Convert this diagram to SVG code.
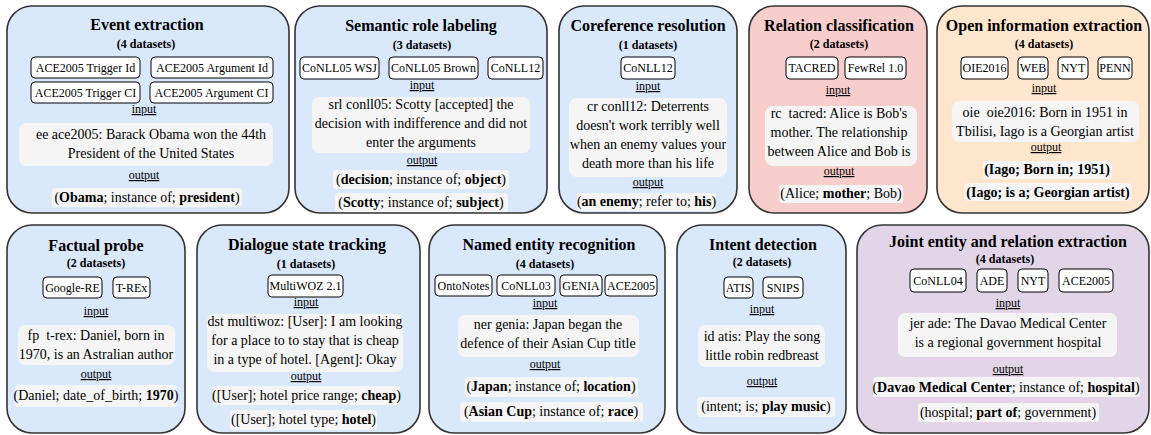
<svg xmlns="http://www.w3.org/2000/svg" width="1151" height="435" viewBox="0 0 1151 435" font-family="'Liberation Serif', Tinos, 'Times New Roman', 'DejaVu Serif', serif">
<style>
text{font-family:'Liberation Serif',Tinos,'Times New Roman','DejaVu Serif',serif;fill:#000;text-anchor:middle}
.panel{stroke:#333;stroke-width:1.6}
.blue{fill:#dae8fc}.red{fill:#f8cecc}.orange{fill:#ffe6cc}.purple{fill:#e1d5e7}
.chip{fill:#fff;stroke:#000;stroke-width:1}
.box{fill:#f5f5f5}
.t{font-size:16px;font-weight:bold}
.s{font-size:12px;font-weight:bold}
.c{font-size:12px}
.l{font-size:12px;text-decoration:underline}
.x{font-size:14px}
.b{font-weight:bold}
</style>
<rect width="1151" height="435" fill="#fff"/>

<g id="event-extraction">
<rect class="panel blue" x="7" y="6" width="282" height="207" rx="25"/>
<text class="t" x="147" y="30">Event extraction</text>
<text class="s" x="146" y="48">(4 datasets)</text>
<rect class="chip" x="31" y="57" width="109" height="21" rx="4"/>
<text class="c" x="85.5" y="72">ACE2005 Trigger Id</text>
<rect class="chip" x="151" y="57" width="122" height="21" rx="4"/>
<text class="c" x="212" y="72">ACE2005 Argument Id</text>
<rect class="chip" x="31" y="82" width="109" height="21" rx="4"/>
<text class="c" x="85.5" y="97">ACE2005 Trigger CI</text>
<rect class="chip" x="150" y="82" width="123" height="21" rx="4"/>
<text class="c" x="211.5" y="97">ACE2005 Argument CI</text>
<text class="l" x="144" y="113">input</text>
<rect class="box" x="19" y="123" width="254" height="43" rx="7"/>
<text class="x" x="151" y="139">ee ace2005: Barack Obama won the 44th</text>
<text class="x" x="151" y="158">President of the United States</text>
<text class="l" x="144" y="179">output</text>
<rect class="box" x="52" y="188" width="190" height="19" rx="3"/>
<text class="x" x="147" y="202">(<tspan class="b">Obama</tspan>; instance of; <tspan class="b">president</tspan>)</text>
</g>

<g id="semantic-role-labeling">
<rect class="panel blue" x="295" y="6" width="252" height="207" rx="25"/>
<text class="t" x="421" y="31">Semantic role labeling</text>
<text class="s" x="422" y="49">(3 datasets)</text>
<rect class="chip" x="300" y="57" width="79" height="22" rx="4"/>
<text class="c" x="339.5" y="72">CoNLL05 WSJ</text>
<rect class="chip" x="389" y="57" width="89" height="22" rx="4"/>
<text class="c" x="433.5" y="72">CoNLL05 Brown</text>
<rect class="chip" x="488" y="57" width="55" height="22" rx="4"/>
<text class="c" x="515.5" y="72">CoNLL12</text>
<text class="l" x="422" y="89">input</text>
<rect class="box" x="312" y="97" width="218" height="56" rx="7"/>
<text class="x" x="421" y="109">srl conll05: Scotty [accepted] the</text>
<text class="x" x="421" y="128">decision with indifference and did not</text>
<text class="x" x="421" y="147">enter the arguments</text>
<text class="l" x="422" y="164">output</text>
<rect class="box" x="333" y="170" width="176" height="19" rx="3"/>
<text class="x" x="421" y="184">(<tspan class="b">decision</tspan>; instance of; <tspan class="b">object</tspan>)</text>
<rect class="box" x="335" y="193" width="173" height="19" rx="3"/>
<text class="x" x="421" y="207">(<tspan class="b">Scotty</tspan>; instance of; <tspan class="b">subject</tspan>)</text>
</g>

<g id="coreference-resolution">
<rect class="panel blue" x="559" y="6" width="178" height="207" rx="25"/>
<text class="t" x="648" y="31">Coreference resolution</text>
<text class="s" x="648" y="49">(1 datasets)</text>
<rect class="chip" x="621" y="57" width="54" height="22" rx="4"/>
<text class="c" x="648" y="72">CoNLL12</text>
<text class="l" x="648" y="90">input</text>
<rect class="box" x="569" y="98" width="158" height="79" rx="8"/>
<text class="x" x="648" y="111">cr conll12: Deterrents</text>
<text class="x" x="648" y="130">doesn't work terribly well</text>
<text class="x" x="648" y="149">when an enemy values your</text>
<text class="x" x="648" y="168">death more than his life</text>
<text class="l" x="648" y="186">output</text>
<rect class="box" x="577" y="193" width="139" height="18" rx="3"/>
<text class="x" x="646.5" y="206">(<tspan class="b">an enemy</tspan>; refer to; <tspan class="b">his</tspan>)</text>
</g>

<g id="relation-classification">
<rect class="panel red" x="749" y="6" width="178" height="207" rx="25"/>
<text class="t" x="839" y="31">Relation classification</text>
<text class="s" x="839" y="48">(2 datasets)</text>
<rect class="chip" x="786" y="57" width="52" height="22" rx="4"/>
<text class="c" x="812" y="72">TACRED</text>
<rect class="chip" x="845" y="57" width="61" height="22" rx="4"/>
<text class="c" x="875.5" y="72">FewRel 1.0</text>
<text class="l" x="838" y="94">input</text>
<rect class="box" x="765" y="106" width="152" height="60" rx="8"/>
<text class="x" x="839" y="118" xml:space="preserve">rc  tacred: Alice is Bob's</text>
<text class="x" x="839" y="137">mother. The relationship</text>
<text class="x" x="839" y="156">between Alice and Bob is</text>
<text class="l" x="839" y="175">output</text>
<rect class="box" x="779" y="185" width="124" height="18" rx="3"/>
<text class="x" x="841" y="198">(Alice; <tspan class="b">mother</tspan>; Bob)</text>
</g>

<g id="open-information-extraction">
<rect class="panel orange" x="937" y="6" width="212" height="207" rx="25"/>
<text class="t" x="1044" y="31">Open information extraction</text>
<text class="s" x="1044" y="48">(4 datasets)</text>
<rect class="chip" x="961" y="57" width="47" height="22" rx="4"/>
<text class="c" x="984.5" y="72">OIE2016</text>
<rect class="chip" x="1018" y="57" width="30" height="22" rx="4"/>
<text class="c" x="1033" y="72">WEB</text>
<rect class="chip" x="1058" y="57" width="30" height="22" rx="4"/>
<text class="c" x="1073" y="72">NYT</text>
<rect class="chip" x="1098" y="57" width="34" height="22" rx="4"/>
<text class="c" x="1115" y="72">PENN</text>
<text class="l" x="1044" y="92">input</text>
<rect class="box" x="952" y="101" width="187" height="41" rx="7"/>
<text class="x" x="1045" y="117" xml:space="preserve">oie  oie2016: Born in 1951 in</text>
<text class="x" x="1045" y="136">Tbilisi, Iago is a Georgian artist</text>
<text class="l" x="1046" y="151">output</text>
<rect class="box" x="983" y="161" width="129" height="18" rx="3"/>
<text class="x b" x="1047" y="174">(Iago; Born in; 1951)</text>
<rect class="box" x="965" y="183" width="166" height="18" rx="3"/>
<text class="x b" x="1048" y="197">(Iago; is a; Georgian artist)</text>
</g>

<g id="factual-probe">
<rect class="panel blue" x="7" y="225" width="178" height="208" rx="25"/>
<text class="t" x="96" y="251">Factual probe</text>
<text class="s" x="96" y="267">(2 datasets)</text>
<rect class="chip" x="43" y="277" width="59" height="21" rx="4"/>
<text class="c" x="72.5" y="292">Google-RE</text>
<rect class="chip" x="113" y="277" width="37" height="21" rx="4"/>
<text class="c" x="131.5" y="292">T-REx</text>
<text class="l" x="96" y="315">input</text>
<rect class="box" x="18" y="325" width="157" height="40" rx="7"/>
<text class="x" x="96" y="340" xml:space="preserve">fp  t-rex: Daniel, born in</text>
<text class="x" x="96" y="359">1970, is an Astralian author</text>
<text class="l" x="96" y="378">output</text>
<rect class="box" x="15" y="385" width="162" height="22" rx="3"/>
<text class="x" x="96" y="400">(Daniel; date_of_birth; <tspan class="b">1970</tspan>)</text>
</g>

<g id="dialogue-state-tracking">
<rect class="panel blue" x="197" y="225" width="223" height="208" rx="25"/>
<text class="t" x="307" y="250">Dialogue state tracking</text>
<text class="s" x="306" y="268">(1 datasets)</text>
<rect class="chip" x="268" y="275" width="75" height="22" rx="4"/>
<text class="c" x="305.5" y="290">MultiWOZ 2.1</text>
<text class="l" x="306" y="306">input</text>
<rect class="box" x="207" y="314" width="196" height="58" rx="7"/>
<text class="x" x="305" y="326">dst multiwoz: [User]: I am looking</text>
<text class="x" x="305" y="345">for a place to to stay that is cheap</text>
<text class="x" x="305" y="364">in a type of hotel. [Agent]: Okay</text>
<text class="l" x="306" y="380">output</text>
<rect class="box" x="213" y="386" width="187" height="19" rx="3"/>
<text class="x" x="306.5" y="400">([User]; hotel price range; <tspan class="b">cheap</tspan>)</text>
<rect class="box" x="230" y="410" width="147" height="20" rx="3"/>
<text class="x" x="303.5" y="424">([User]; hotel type; <tspan class="b">hotel</tspan>)</text>
</g>

<g id="named-entity-recognition">
<rect class="panel blue" x="429" y="225" width="236" height="208" rx="25"/>
<text class="t" x="549" y="250">Named entity recognition</text>
<text class="s" x="545" y="268">(4 datasets)</text>
<rect class="chip" x="435" y="275" width="57" height="21" rx="4"/>
<text class="c" x="463.5" y="290">OntoNotes</text>
<rect class="chip" x="497" y="275" width="58" height="21" rx="4"/>
<text class="c" x="526" y="290">CoNLL03</text>
<rect class="chip" x="560" y="275" width="42" height="21" rx="4"/>
<text class="c" x="581" y="290">GENIA</text>
<rect class="chip" x="605" y="275" width="52" height="21" rx="4"/>
<text class="c" x="631" y="290">ACE2005</text>
<text class="l" x="545" y="307">input</text>
<rect class="box" x="458" y="315" width="181" height="42" rx="7"/>
<text class="x" x="548" y="329">ner genia: Japan began the</text>
<text class="x" x="548" y="348">defence of their Asian Cup title</text>
<text class="l" x="545" y="368">output</text>
<rect class="box" x="465" y="377" width="173" height="20" rx="3"/>
<text class="x" x="551" y="391">(<tspan class="b">Japan</tspan>; instance of; <tspan class="b">location</tspan>)</text>
<rect class="box" x="460" y="402" width="183" height="20" rx="3"/>
<text class="x" x="551" y="416">(<tspan class="b">Asian Cup</tspan>; instance of; <tspan class="b">race</tspan>)</text>
</g>

<g id="intent-detection">
<rect class="panel blue" x="677" y="225" width="169" height="208" rx="25"/>
<text class="t" x="763" y="250">Intent detection</text>
<text class="s" x="762" y="266">(2 datasets)</text>
<rect class="chip" x="724" y="277" width="29" height="21" rx="4"/>
<text class="c" x="738.5" y="292">ATIS</text>
<rect class="chip" x="763" y="277" width="40" height="21" rx="4"/>
<text class="c" x="783" y="292">SNIPS</text>
<text class="l" x="762" y="313">input</text>
<rect class="box" x="698" y="325" width="127" height="42" rx="7"/>
<text class="x" x="762" y="341">id atis: Play the song</text>
<text class="x" x="762" y="360">little robin redbreast</text>
<text class="l" x="762" y="385">output</text>
<rect class="box" x="697" y="397" width="138" height="20" rx="3"/>
<text class="x" x="766" y="411">(intent; is; <tspan class="b">play music</tspan>)</text>
</g>

<g id="joint-entity-relation-extraction">
<rect class="panel purple" x="857" y="225" width="292" height="208" rx="25"/>
<text class="t" x="1008" y="247">Joint entity and relation extraction</text>
<text class="s" x="1005" y="263">(4 datasets)</text>
<rect class="chip" x="910" y="269" width="56" height="23" rx="4"/>
<text class="c" x="938" y="285">CoNLL04</text>
<rect class="chip" x="977" y="269" width="30" height="23" rx="4"/>
<text class="c" x="992" y="285">ADE</text>
<rect class="chip" x="1018" y="269" width="30" height="23" rx="4"/>
<text class="c" x="1033" y="285">NYT</text>
<rect class="chip" x="1059" y="269" width="54" height="23" rx="4"/>
<text class="c" x="1086" y="285">ACE2005</text>
<text class="l" x="1008" y="307">input</text>
<rect class="box" x="898" y="313" width="219" height="44" rx="7"/>
<text class="x" x="1008" y="328">jer ade: The Davao Medical Center</text>
<text class="x" x="1008" y="347">is a regional government hospital</text>
<text class="l" x="1008" y="373">output</text>
<rect class="box" x="873" y="377" width="267" height="20" rx="3"/>
<text class="x" x="1006" y="392">(<tspan class="b">Davao Medical Center</tspan>; instance of; <tspan class="b">hospital</tspan>)</text>
<rect class="box" x="918" y="403" width="181" height="19" rx="3"/>
<text class="x" x="1008" y="417">(hospital; <tspan class="b">part of</tspan>; government)</text>
</g>
</svg>
